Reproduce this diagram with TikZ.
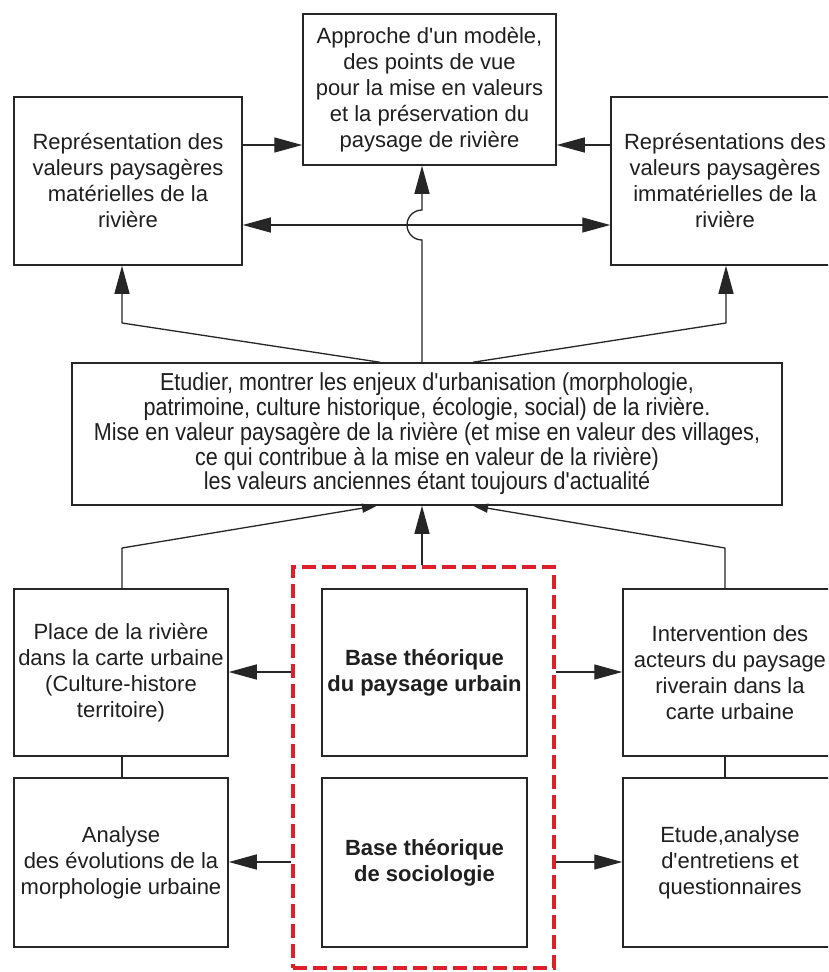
\documentclass[tikz,border=0pt]{standalone}
\usepackage{fontspec}
\setmainfont{Liberation Sans}[Ligatures=TeXOff]
\newfontfamily\etroit{Liberation Sans}[Ligatures=TeXOff,FakeStretch=0.88]
\usetikzlibrary{arrows.meta}
\definecolor{rouge}{RGB}{222,32,42}

\begin{document}
\begin{tikzpicture}[x=1pt,y=-1pt,
	boite/.style={draw=black!85,line width=1.5pt,text=black!88,align=center,inner sep=0pt,font=\fontsize{22}{26}\selectfont},
	fleche/.style={line width=1.3pt,draw=black!85,-{Triangle[length=28pt,width=15pt]}},
	petite/.style={line width=1.3pt,draw=black!85,-{Triangle[length=15pt,width=9pt]}},
	fleches/.style={line width=1.3pt,draw=black!85,{Triangle[length=28pt,width=15pt]}-{Triangle[length=28pt,width=15pt]}},
	trait/.style={line width=1.3pt,draw=black!85}]
	\useasboundingbox (0,0) rectangle (828,972) ;
	\fill[white] (0,0) rectangle (828,972) ;
	\clip (0,0) rectangle (828,972) ;
	% boites du haut
	\node[boite,minimum width=253pt,minimum height=151pt] (modele) at (429.5,89.5) {Approche d'un modèle,\\des points de vue\\pour la mise en valeurs\\et la préservation du\\paysage de rivière} ;
	\node[boite,minimum width=228pt,minimum height=168pt] (materiel) at (128,181) {Représentation des\\valeurs paysagères\\matérielles de la\\rivière} ;
	\node[boite,minimum width=228pt,minimum height=168pt] (immateriel) at (725,181) {Représentations des\\valeurs paysagères\\immatérielles de la\\rivière} ;
	% boite centrale
	\node[boite,minimum width=710pt,minimum height=142pt,font=\etroit\fontsize{24.5}{24.8}\selectfont] (enjeux) at (427,434) {Etudier, montrer les enjeux d'urbanisation (morphologie,\\patrimoine, culture historique, écologie, social) de la rivière.\\Mise en valeur paysagère de la rivière (et mise en valeur des villages,\\ce qui contribue à la mise en valeur de la rivière)\\les valeurs anciennes étant toujours d'actualité} ;
	% boites du bas
	\node[draw=rouge,line width=3.2pt,dash pattern=on 14pt off 6pt,minimum width=261pt,minimum height=401pt] (base) at (423.5,767.5) {} ;
	\node[boite,minimum width=205pt,minimum height=167pt,font=\fontsize{22}{26}\selectfont\bfseries] (paysurb) at (424.5,672.5) {Base théorique\\du paysage urbain} ;
	\node[boite,minimum width=205pt,minimum height=169pt,font=\fontsize{22}{26}\selectfont\bfseries] (socio) at (424.5,862.5) {Base théorique\\de sociologie} ;
	\node[boite,minimum width=214pt,minimum height=167pt] (place) at (121,672.5) {Place de la rivière\\dans la carte urbaine\\(Culture-histore\\territoire)} ;
	\node[boite,minimum width=214pt,minimum height=169pt] (analyse) at (121,862.5) {Analyse\\des évolutions de la\\morphologie urbaine} ;
	\node[boite,minimum width=214pt,minimum height=167pt] (acteurs) at (730,672.5) {Intervention des\\acteurs du paysage\\riverain dans la\\carte urbaine} ;
	\node[boite,minimum width=214pt,minimum height=169pt] (etude) at (730,862.5) {Etude,analyse\\d'entretiens et\\questionnaires} ;
	% reperes
	\coordinate (r1) at (0,145) ;
	\coordinate (r2) at (0,225) ;
	\coordinate (r3) at (0,672) ;
	\coordinate (r4) at (0,862) ;
	\coordinate (saut) at (422,225) ;
	\coordinate (gh) at (122,323) ;
	\coordinate (dh) at (726,323) ;
	\coordinate (gb) at (122,548) ;
	\coordinate (db) at (725,548) ;
	% fleches du haut
	\draw[fleche] (materiel.east |- r1) -- (modele.west |- r1) ;
	\draw[fleche] (immateriel.west |- r1) -- (modele.east |- r1) ;
	\draw[fleches] (materiel.east |- r2) -- (immateriel.west |- r2) ;
	\draw[fleche] (enjeux.north -| saut) -- ([yshift=-15pt]saut) arc[start angle=270,end angle=90,radius=15pt] -- (modele.south -| saut) ;
	\draw[fleche,line join=bevel] ([xshift=-47pt]enjeux.north) -- (gh) -- (materiel.south -| gh) ;
	\draw[fleche,line join=bevel] ([xshift=46pt]enjeux.north) -- (dh) -- (immateriel.south -| dh) ;
	% fleches du bas
	\draw[petite,line join=bevel] (place.north -| gb) -- (gb) -- ([xshift=-50pt]enjeux.south) ;
	\draw[petite,line join=bevel] (acteurs.north -| db) -- (db) -- ([xshift=46pt]enjeux.south) ;
	\draw[fleche] (base.north -| saut) -- (enjeux.south -| saut) ;
	\draw[trait] (place.south -| gb) -- (analyse.north -| gb) ;
	\draw[trait] (acteurs.south -| db) -- (etude.north -| db) ;
	\draw[fleche] (base.west |- r3) -- (place.east |- r3) ;
	\draw[fleche] (base.west |- r4) -- (analyse.east |- r4) ;
	\draw[fleche] (base.east |- r3) -- (acteurs.west |- r3) ;
	\draw[fleche] (base.east |- r4) -- (etude.west |- r4) ;
\end{tikzpicture}
\end{document}
